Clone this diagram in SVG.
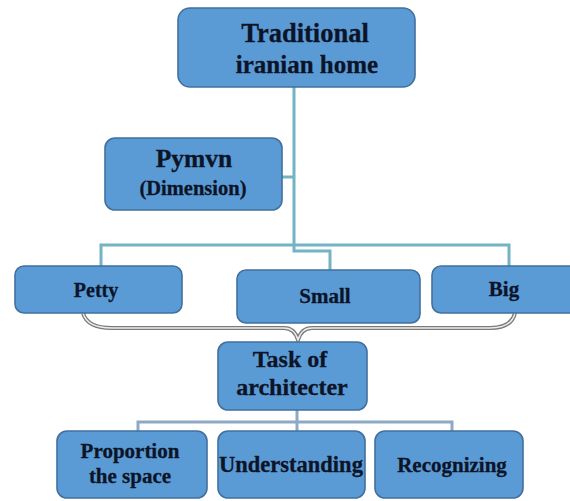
<svg xmlns="http://www.w3.org/2000/svg" width="570" height="501" viewBox="0 0 570 501">
<style>
.box{fill:#5b9bd5;stroke:#41709f;stroke-width:1.6}
.t{font-family:"Liberation Serif","Times New Roman",serif;font-weight:bold;fill:#0c1428;stroke:#0c1428;stroke-width:0.3;text-anchor:middle}
.c1{fill:none;stroke:#72b3c4;stroke-width:3}
.c2{fill:none;stroke:#8ea9c6;stroke-width:3}
</style>
<rect width="570" height="501" fill="#ffffff"/>
<g id="connectors">
<path class="c1" d="M294,87 V251 H330 V270"/>
<path class="c1" d="M282,177 H294"/>
<path class="c1" d="M101,266 V245 H509 V266"/>
<path d="M83,313 C86,324 96,328 112,328 H284 C292,328 296,333 298,340 C300,333 304,328 312,328 H490 C506,328 513,322 515,313" fill="none" stroke="#7a7a7a" stroke-width="4"/>
<path d="M83,313 C86,324 96,328 112,328 H284 C292,328 296,333 298,340 C300,333 304,328 312,328 H490 C506,328 513,322 515,313" fill="none" stroke="#eeeeee" stroke-width="1.4"/>
<path class="c2" d="M297,410 V431"/>
<path class="c2" d="M138,431 V422 H452 V431"/>
</g>
<g id="n-home">
<rect class="box" x="178" y="8" width="237" height="79" rx="12"/>
<text class="t" x="305" y="42" font-size="26.5">Traditional</text>
<text class="t" x="307" y="73" font-size="25">iranian home</text>
</g>
<g id="n-pymvn">
<rect class="box" x="105" y="138" width="177" height="72" rx="10"/>
<text class="t" x="194" y="167" font-size="25.5">Pymvn</text>
<text class="t" x="193" y="195" font-size="20.5">(Dimension)</text>
</g>
<g id="n-petty">
<rect class="box" x="15" y="266" width="167" height="47" rx="9"/>
<text class="t" x="96" y="297" font-size="20">Petty</text>
</g>
<g id="n-small">
<rect class="box" x="237" y="270" width="183" height="53" rx="9"/>
<text class="t" x="325" y="303" font-size="21">Small</text>
</g>
<g id="n-big">
<rect class="box" x="432" y="266" width="150" height="47" rx="9"/>
<text class="t" x="504" y="296" font-size="21">Big</text>
</g>
<g id="n-task">
<rect class="box" x="218" y="342" width="149" height="68" rx="10"/>
<text class="t" x="290" y="367" font-size="24">Task of</text>
<text class="t" x="292" y="395" font-size="24">architecter</text>
</g>
<g id="n-proportion">
<rect class="box" x="57" y="431" width="150" height="67" rx="10"/>
<text class="t" x="130" y="458" font-size="21">Proportion</text>
<text class="t" x="130" y="483" font-size="21">the space</text>
</g>
<g id="n-understanding">
<rect class="box" x="218" y="431" width="147" height="67" rx="10"/>
<text class="t" x="291" y="472" font-size="22.5">Understanding</text>
</g>
<g id="n-recognizing">
<rect class="box" x="375" y="431" width="148" height="67" rx="10"/>
<text class="t" x="452" y="472" font-size="21">Recognizing</text>
</g>
</svg>
